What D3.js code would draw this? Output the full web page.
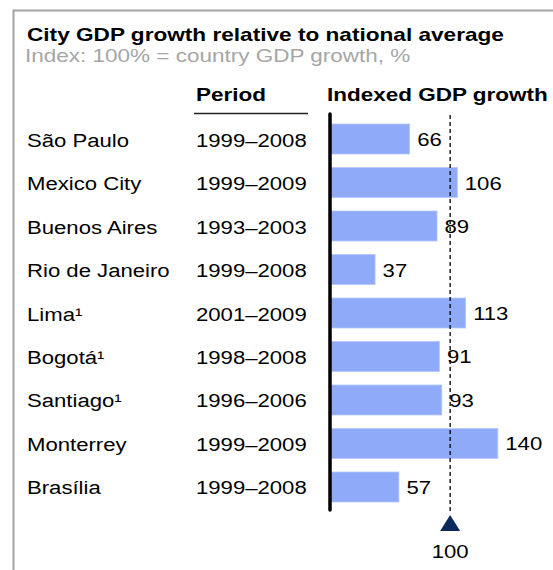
<!DOCTYPE html>
<html>
<head>
<meta charset="utf-8">
<script src="https://cdn.jsdelivr.net/npm/d3@7"></script>
<style>
  html, body { margin: 0; padding: 0; background: #fff; }
  svg { display: block; font-family: "Liberation Sans", Arial, sans-serif; }
</style>
</head>
<body>
<svg id="chart" width="553" height="570"></svg>
<script>
// Cities, measurement periods and indexed GDP growth (100 = national growth)
const cities = ["São Paulo", "Mexico City", "Buenos Aires", "Rio de Janeiro", "Lima¹", "Bogotá¹", "Santiago¹", "Monterrey", "Brasília"];
const periods = ["1999–2008", "1999–2009", "1993–2003", "1999–2008", "2001–2009", "1998–2008", "1996–2006", "1999–2009", "1999–2008"];
const growth = [66, 106, 89, 37, 113, 91, 93, 140, 57];
const referenceValue = 100;

const title = "City GDP growth relative to national average";
const subtitle = "Index: 100% = country GDP growth, %";
const periodHeader = "Period";
const growthHeader = "Indexed GDP growth";

const svg = d3.select("#chart");
const STRETCH = 1.23;      // wide type setting
const STRETCH_BOLD = 1.25;

function label(sel, x, y, txt, opts = {}) {
  const k = opts.weight === "bold" ? STRETCH_BOLD : STRETCH;
  return sel.append("text")
    .attr("transform", `translate(${x},${y}) scale(${k},1)`)
    .attr("text-anchor", opts.anchor || "start")
    .attr("font-size", opts.size || 18)
    .attr("font-weight", opts.weight || "normal")
    .attr("fill", opts.fill || "#000")
    .text(txt);
}

// Frame
svg.append("path")
  .attr("d", "M13.5,570 V10.5 H553")
  .attr("fill", "none")
  .attr("stroke", "#a3a3a3")
  .attr("stroke-width", 2);

// Headings
label(svg, 27, 41, title, { weight: "bold", size: 18.1 });
label(svg, 25, 62, subtitle, { fill: "#a6a6a6", size: 18.3 });
label(svg, 196, 101, periodHeader, { weight: "bold" });
label(svg, 327, 101, growthHeader, { weight: "bold" });
svg.append("line")
  .attr("x1", 194).attr("x2", 308)
  .attr("y1", 113.5).attr("y2", 113.5)
  .attr("stroke", "#222").attr("stroke-width", 1.5);

// Scales
const x = d3.scaleLinear().domain([0, 140]).range([331, 497.8]);
const y = d3.scaleBand().domain(cities).range([124, 502]).paddingInner(0.31).paddingOuter(0);

const rows = cities.map((c, i) => ({ city: c, period: periods[i], value: growth[i] }));

// Row labels
rows.forEach(d => {
  const cy = y(d.city) + y.bandwidth() / 2 + 7.5;
  label(svg, 27, cy, d.city);
  label(svg, 196, cy, d.period);
});

// Bars
svg.append("g").selectAll("rect")
  .data(rows)
  .join("rect")
  .attr("x", x(0))
  .attr("y", d => y(d.city))
  .attr("width", d => x(d.value) - x(0))
  .attr("height", y.bandwidth())
  .attr("fill", "#8eaaf9")
  .attr("stroke", "#b7c9fb")
  .attr("stroke-width", 0.8);

// Reference line at national growth
svg.append("line")
  .attr("x1", x(referenceValue)).attr("x2", x(referenceValue))
  .attr("y1", 115).attr("y2", 514)
  .attr("stroke", "#000")
  .attr("stroke-width", 1.3)
  .attr("stroke-dasharray", "4,3");

// Value labels
rows.forEach(d => {
  label(svg, x(d.value) + 7.5, y(d.city) + y.bandwidth() / 2 + 7, d.value);
});

// Baseline axis
svg.append("line")
  .attr("x1", x(0) - 1).attr("x2", x(0) - 1)
  .attr("y1", 114).attr("y2", 510)
  .attr("stroke", "#000")
  .attr("stroke-width", 3.5)
  .attr("stroke-linecap", "round");

// Marker and label for the 100 reference
const rx = x(referenceValue);
svg.append("path")
  .attr("d", `M${rx},515 L${rx + 10},531 L${rx - 10},531 Z`)
  .attr("fill", "#0c2a5e");
label(svg, rx, 558, referenceValue, { anchor: "middle" });
</script>
</body>
</html>
